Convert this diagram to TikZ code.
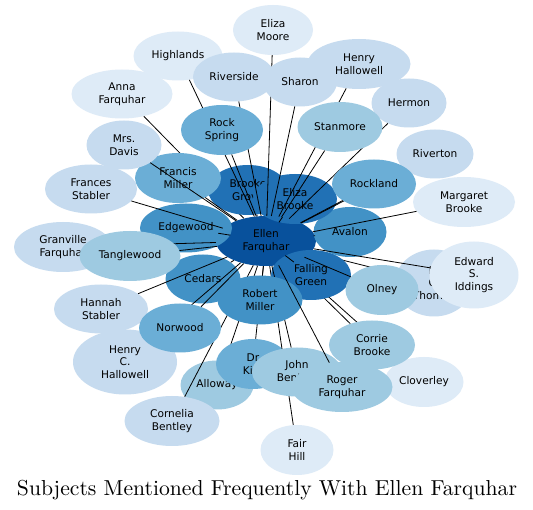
\documentclass[tikz,border=0pt]{standalone}
\usepackage{fontspec}
\usepackage{graphicx}
\usepackage{tikz}
\usetikzlibrary{shapes.geometric}
\newfontfamily\labfont{DejaVu Sans}
\definecolor{tone1}{RGB}{222,235,247}
\definecolor{tone2}{RGB}{198,219,239}
\definecolor{tone3}{RGB}{158,202,225}
\definecolor{tone4}{RGB}{107,174,214}
\definecolor{tone5}{RGB}{66,146,198}
\definecolor{tone6}{RGB}{33,113,181}
\definecolor{tone7}{RGB}{8,81,156}
\tikzset{
  topic/.style={ellipse,inner sep=0pt,minimum height=49pt,align=center,
    font=\labfont\fontsize{10.6}{12.5}\selectfont},
  t1/.style={topic,fill=tone1},
  t2/.style={topic,fill=tone2},
  t3/.style={topic,fill=tone3},
  t4/.style={topic,fill=tone4},
  t5/.style={topic,fill=tone5},
  t6/.style={topic,fill=tone6},
  t7/.style={topic,fill=tone7},
  lnk/.style={draw=black,line width=0.8pt},
}

\begin{document}
\begin{tikzpicture}[x=1pt,y=-1pt]
  \useasboundingbox[fill=white] (0,0) rectangle (533,510);
  % drawn in name order, each link right after its node
  \node[t3,minimum width=73pt] (alloway) at (217,385) {Alloway};
  \node[t7,minimum width=100pt,minimum height=50pt] (ellen) at (266,241) {Ellen\\Farquhar};
  \draw[lnk] (alloway) -- (ellen);
  \node[t1,minimum width=101pt] (anna) at (122,94) {Anna\\Farquhar};
  \draw[lnk] (anna) -- (ellen);
  \node[t5,minimum width=73pt,minimum height=50pt] (avalon) at (350,232) {Avalon};
  \draw[lnk] (avalon) -- (ellen);
  \node[t6,minimum width=80pt,minimum height=50pt] (brookegrove) at (248,190) {Brooke\\Grove};
  \draw[lnk] (brookegrove) -- (ellen);
  \node[t5,minimum width=75pt] (cedars) at (203,279) {Cedars};
  \draw[lnk] (cedars) -- (ellen);
  \node[t1,minimum width=79pt,minimum height=50pt] (cloverley) at (424,382) {Cloverley};
  \draw[lnk] (cloverley) -- (ellen);
  \node[t2,minimum width=95pt,minimum height=50pt] (cornelia) at (172,421) {Cornelia\\Bentley};
  \draw[lnk] (cornelia) -- (ellen);
  \node[t3,minimum width=86pt] (corrie) at (372,345) {Corrie\\Brooke};
  \draw[lnk] (corrie) -- (ellen);
  \node[t4,minimum width=74pt,minimum height=50pt] (drkirk) at (253,364) {Dr\\Kirk};
  \draw[lnk] (drkirk) -- (ellen);
  \node[t2,minimum width=78pt,minimum height=67pt] (thomas) at (434,283) {E.\\C.\\Thomas};
  \draw[lnk] (thomas) -- (ellen);
  \node[t5,minimum width=92pt] (edgewood) at (186,228) {Edgewood};
  \draw[lnk] (edgewood) -- (ellen);
  \node[t1,minimum width=89pt,minimum height=67pt] (iddings) at (474,275) {Edward\\S.\\Iddings};
  \draw[lnk] (iddings) -- (ellen);
  \node[t6,minimum width=84pt,minimum height=50pt] (elizabrooke) at (295,199) {Eliza\\Brooke};
  \draw[lnk] (elizabrooke) -- (ellen);
  \node[t1,minimum width=80pt,minimum height=50pt] (elizamoore) at (273,30) {Eliza\\Moore};
  \draw[lnk] (elizamoore) -- (ellen);
  \node[t1,minimum width=73pt,minimum height=50pt] (fairhill) at (297,450) {Fair\\Hill};
  \draw[lnk] (fairhill) -- (ellen);
  \node[t6,minimum width=80pt,minimum height=50pt] (fallinggreen) at (311,275) {Falling\\Green};
  \draw[lnk] (fallinggreen) -- (ellen);
  \node[t2,minimum width=92pt] (frances) at (91,189) {Frances\\Stabler};
  \draw[lnk] (frances) -- (ellen);
  \node[t4,minimum width=86pt,minimum height=50pt] (francis) at (178,178) {Francis\\Miller};
  \draw[lnk] (francis) -- (ellen);
  \node[t2,minimum width=98pt,minimum height=50pt] (granville) at (63,247) {Granville\\Farquhar};
  \draw[lnk] (granville) -- (ellen);
  \node[t2,minimum width=94pt] (hannah) at (101,309) {Hannah\\Stabler};
  \draw[lnk] (hannah) -- (ellen);
  \node[t2,minimum width=104pt,minimum height=65pt] (henryc) at (125,362) {Henry\\C.\\Hallowell};
  \draw[lnk] (henryc) -- (ellen);
  \node[t2,minimum width=103pt,minimum height=50pt] (henry) at (359,64) {Henry\\Hallowell};
  \draw[lnk] (henry) -- (ellen);
  \node[t2,minimum width=75pt] (hermon) at (409,103) {Hermon};
  \draw[lnk] (hermon) -- (ellen);
  \node[t1,minimum width=89pt] (highlands) at (178,56) {Highlands};
  \draw[lnk] (highlands) -- (ellen);
  \node[t3,minimum width=90pt] (johnb) at (297,372) {John\\Bentley};
  \draw[lnk] (johnb) -- (ellen);
  \node[t1,minimum width=102pt,minimum height=50pt] (margaret) at (464,202) {Margaret\\Brooke};
  \draw[lnk] (margaret) -- (ellen);
  \node[t2,minimum width=75pt] (davis) at (124,145) {Mrs.\\Davis};
  \draw[lnk] (davis) -- (ellen);
  \node[t4,minimum width=82pt] (norwood) at (180,328) {Norwood};
  \draw[lnk] (norwood) -- (ellen);
  \node[t3,minimum width=73pt,minimum height=50pt] (olney) at (382,290) {Olney};
  \draw[lnk] (olney) -- (ellen);
  \node[t2,minimum width=82pt] (riverside) at (234,77) {Riverside};
  \draw[lnk] (riverside) -- (ellen);
  \node[t2,minimum width=77pt] (riverton) at (435,154) {Riverton};
  \draw[lnk] (riverton) -- (ellen);
  \node[t5,minimum width=85pt] (robert) at (260,300) {Robert\\Miller};
  \draw[lnk] (robert) -- (ellen);
  \node[t4,minimum width=82pt,minimum height=50pt] (rockspring) at (222,130) {Rock\\Spring};
  \draw[lnk] (rockspring) -- (ellen);
  \node[t4,minimum width=84pt] (rockland) at (374,184) {Rockland};
  \draw[lnk] (rockland) -- (ellen);
  \node[t3,minimum width=101pt,minimum height=50pt] (roger) at (342,387) {Roger\\Farquhar};
  \draw[lnk] (roger) -- (ellen);
  \node[t2,minimum width=74pt] (sharon) at (300,82) {Sharon};
  \draw[lnk] (sharon) -- (ellen);
  \node[t3,minimum width=85pt,minimum height=50pt] (stanmore) at (340,127) {Stanmore};
  \draw[lnk] (stanmore) -- (ellen);
  \node[t3,minimum width=101pt,minimum height=50pt] (tanglewood) at (130,256) {Tanglewood};
  \draw[lnk] (tanglewood) -- (ellen);
  \node[anchor=base] (title) at (267,495)
    {\resizebox{500pt}{!}{Subjects Mentioned Frequently With Ellen Farquhar}};
\end{tikzpicture}
\end{document}
